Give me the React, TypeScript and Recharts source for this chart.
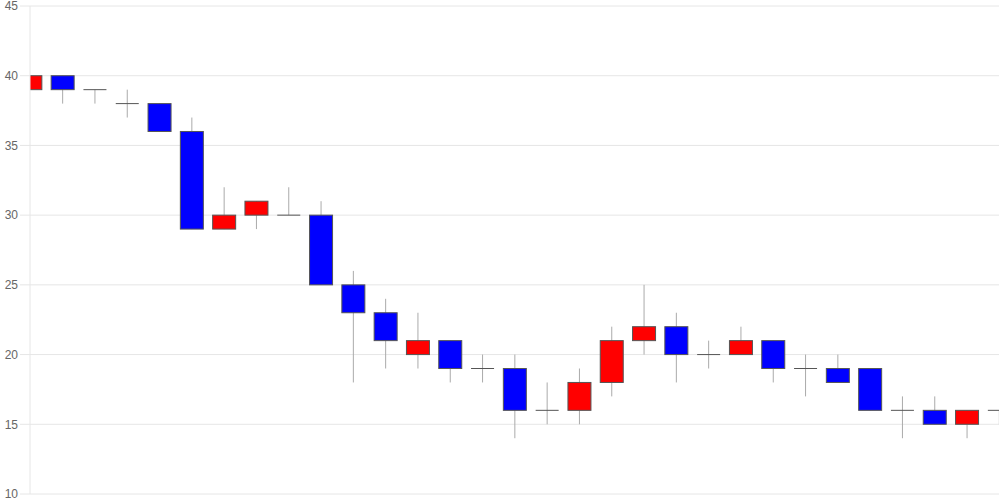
import { Bar, CartesianGrid, ComposedChart, XAxis, YAxis } from "recharts";

const opens = [39, 40, 39, 38, 38, 36, 29, 30, 30, 30, 25, 23, 20, 21, 19, 19, 16, 16, 18, 21, 22, 20, 20, 21, 19, 19, 19, 16, 16, 15, 16];
const closes = [40, 39, 39, 38, 36, 29, 30, 31, 30, 25, 23, 21, 21, 19, 19, 16, 16, 18, 21, 22, 20, 20, 21, 19, 19, 18, 16, 16, 15, 16, 16];
const highs = [40, 40, 39, 39, 38, 37, 32, 31, 32, 31, 26, 24, 23, 21, 20, 20, 18, 19, 22, 25, 23, 21, 22, 21, 20, 20, 19, 17, 17, 16, 16];
const lows = [39, 38, 38, 37, 36, 29, 29, 29, 30, 25, 18, 19, 19, 18, 18, 14, 15, 15, 17, 20, 18, 19, 20, 18, 17, 18, 16, 14, 15, 14, 15];
const yTicks = [10, 15, 20, 25, 30, 35, 40, 45];

const data = opens.map((open, i) => ({
  i,
  open,
  close: closes[i],
  high: highs[i],
  low: lows[i],
  range: [lows[i], highs[i]] as [number, number],
}));

type CandleProps = {
  x?: number;
  y?: number;
  width?: number;
  height?: number;
  payload?: (typeof data)[number];
};

function Candle({ x = 0, y = 0, width = 0, height = 0, payload }: CandleProps) {
  if (!payload) return null;
  const { open, close, high, low } = payload;
  const ratio = height / (high - low);
  const cx = x + width / 2;
  const yOpen = y + (high - open) * ratio;
  const yClose = y + (high - close) * ratio;
  const top = Math.min(yOpen, yClose);
  const bottom = Math.max(yOpen, yClose);
  const up = close > open;
  const flat = close === open;
  return (
    <g>
      <line x1={cx} x2={cx} y1={y} y2={y + height} stroke="#aaa" strokeWidth={1} />
      {flat ? (
        <line x1={x} x2={x + width} y1={top} y2={top} stroke="#555" strokeWidth={1} />
      ) : (
        <rect
          x={x}
          y={top}
          width={width}
          height={bottom - top}
          fill={up ? "#ff0000" : "#0000ff"}
          stroke="#555"
          strokeWidth={1}
        />
      )}
    </g>
  );
}

export default function App() {
  return (
    <div style={{ width: 1000, height: 500 }}>
      <style>{`body{margin:0}`}</style>
      <ComposedChart
        width={1000}
        height={500}
        data={data}
        margin={{ top: 6, right: 1, left: 0, bottom: 6 }}
      >
        <CartesianGrid stroke="#e6e6e6" vertical={false} />
        <XAxis
          dataKey="i"
          type="number"
          domain={[0, 30]}
          allowDataOverflow
          hide
        />
        <YAxis
          domain={[10, 45]}
          ticks={yTicks}
          width={30}
          tickSize={10}
          interval={0}
          stroke="#e6e6e6"
          tick={{ fill: "#666", fontSize: 12, fontFamily: "Liberation Sans, Arial, sans-serif" }}
        />
        <Bar
          dataKey="range"
          barSize={23}
          shape={(props: CandleProps) => <Candle {...props} />}
          isAnimationActive={false}
        />
      </ComposedChart>
    </div>
  );
}
